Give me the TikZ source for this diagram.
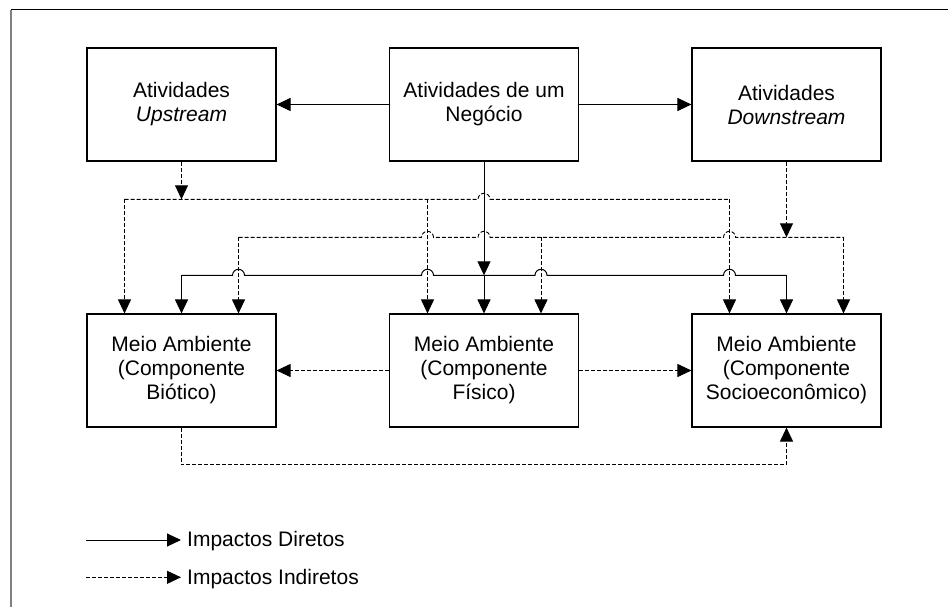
\documentclass[tikz,border=0pt]{standalone}
\usepackage{fontspec}
\setmainfont{Liberation Sans}
\usetikzlibrary{arrows.meta}
\begin{document}
\begin{tikzpicture}[x=1pt,y=-1pt,
  box/.style={draw,line width=1.1pt,minimum width=189pt,minimum height=113pt,align=center,inner sep=0pt,font=\fontsize{21}{24}\selectfont},
  tip/.style={-{Triangle[length=14pt,width=13pt]}},
  dsh/.style={dash pattern=on 4pt off 2pt,line width=0.9pt},
  sol/.style={line width=1pt},
  lbl/.style={anchor=base west,inner sep=0pt,font=\fontsize{21}{24}\selectfont}]
\useasboundingbox (0,0) rectangle (948,607);
% frame
\draw[line width=1.5pt,gray] (11,607) -- (11,10);
\draw[line width=1pt] (10.5,10) -- (948,10);
% boxes
\node[box] (up) at (181.5,104.5) {Atividades\\\textit{Upstream}};
\node[box] (biz) at (484,104.5) {Atividades de um\\Negócio};
\node[box] (down) at (786.5,104.5) {Atividades\\\textit{Downstream}};
\node[box] (bio) at (181.5,370.5) {Meio Ambiente\\(Componente\\Biótico)};
\node[box] (fis) at (484,370.5) {Meio Ambiente\\(Componente\\Físico)};
\node[box] (soc) at (786.5,370.5) {Meio Ambiente\\(Componente\\Socioeconômico)};
% top horizontal arrows
\draw[sol,tip] (biz.west) -- (up.east);
\draw[sol,tip] (biz.east) -- (down.west);
% bus junctions
\coordinate (bu) at (181.5,199.3);
\coordinate (bd) at (786.5,237.3);
\coordinate (bs) at (484,275.3);
\draw[dsh,tip] (up.south) -- (bu);
\draw[dsh,tip] (down.south) -- (bd);
\draw[sol,tip] (biz.south) -- (bs);
% upstream bus
\draw[dsh] (124.5,199.3) -- (478,199.3) arc[start angle=180,end angle=360,radius=6] -- (729.5,199.3);
% downstream bus
\draw[dsh] (238.5,237.3) -- (421.5,237.3) arc[start angle=180,end angle=360,radius=6]
  -- (478,237.3) arc[start angle=180,end angle=360,radius=6]
  -- (723.5,237.3) arc[start angle=180,end angle=360,radius=6] -- (843.5,237.3);
% direct bus
\draw[sol] (181.5,275.3) -- (232.5,275.3) arc[start angle=180,end angle=360,radius=6]
  -- (421.5,275.3) arc[start angle=180,end angle=360,radius=6]
  -- (535,275.3) arc[start angle=180,end angle=360,radius=6]
  -- (723.5,275.3) arc[start angle=180,end angle=360,radius=6] -- (786.5,275.3);
% verticals upstream (indirect)
\draw[dsh,tip] ([xshift=-57pt]bio.north |- bu) -- ([xshift=-57pt]bio.north);
\draw[dsh,tip] ([xshift=-56.5pt]fis.north |- bu) -- ([xshift=-56.5pt]fis.north);
\draw[dsh,tip] ([xshift=-57pt]soc.north |- bu) -- ([xshift=-57pt]soc.north);
% verticals downstream (indirect)
\draw[dsh,tip] ([xshift=57pt]bio.north |- bd) -- ([xshift=57pt]bio.north);
\draw[dsh,tip] ([xshift=57pt]fis.north |- bd) -- ([xshift=57pt]fis.north);
\draw[dsh,tip] ([xshift=57pt]soc.north |- bd) -- ([xshift=57pt]soc.north);
% verticals direct
\draw[sol,tip] (bio.north |- bs) -- (bio.north);
\draw[sol,tip] (bs) -- (fis.north);
\draw[sol,tip] (soc.north |- bs) -- (soc.north);
% bottom row links
\draw[dsh,tip] (fis.west) -- (bio.east);
\draw[dsh,tip] (fis.east) -- (soc.west);
\coordinate (low) at (484,464.6);
\draw[dsh,tip] (bio.south) -- (bio.south |- low) -- (soc.south |- low) -- (soc.south);
% legend
\coordinate (l1a) at (86,540);
\coordinate (l1b) at (181,540);
\coordinate (l2a) at (86,577.3);
\coordinate (l2b) at (181,577.3);
\draw[sol,tip] (l1a) -- (l1b);
\draw[dsh,tip] (l2a) -- (l2b);
\node[lbl] (ld) at (187,546.7) {Impactos Diretos};
\node[lbl] (li) at (187,584.2) {Impactos Indiretos};
\end{tikzpicture}
\end{document}
